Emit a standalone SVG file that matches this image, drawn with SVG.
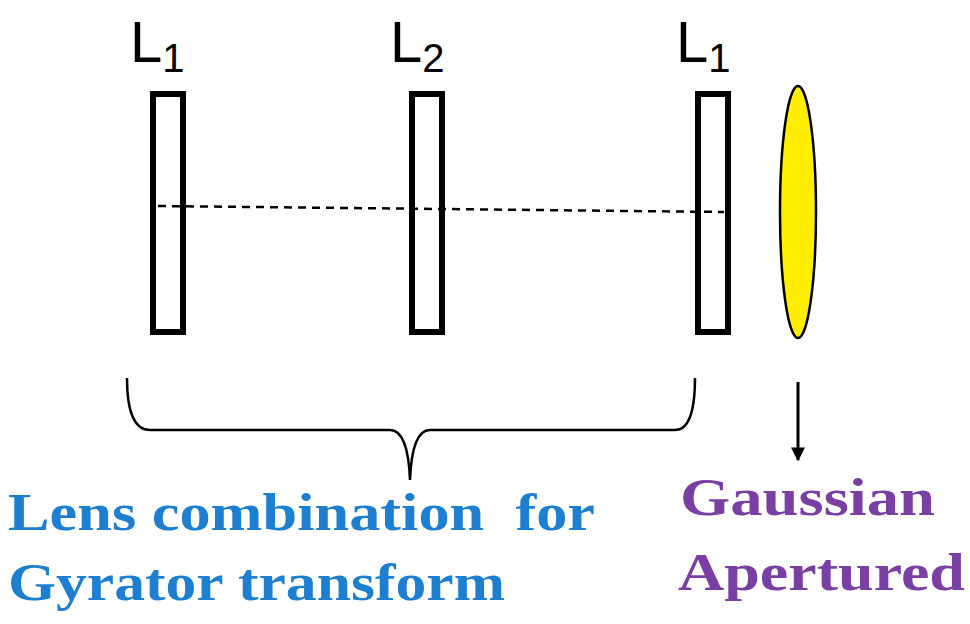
<svg xmlns="http://www.w3.org/2000/svg" width="970" height="624" viewBox="0 0 970 624">
<style>
.lens{fill:#fff;stroke:#000;stroke-width:6}
.lab{font-family:"Liberation Sans",Arial,sans-serif;font-size:58px;fill:#000}
.sub{font-size:40px}
.blue{font-family:"Liberation Serif","Times New Roman",serif;font-weight:bold;font-size:52px;fill:#1e7fd0}
.purp{font-family:"Liberation Serif","Times New Roman",serif;font-weight:bold;font-size:52px;fill:#7a3fa3}
</style>
<defs>
<marker id="a2" viewBox="0 0 10 10" markerWidth="14" markerHeight="16" refX="9" refY="5" orient="auto" markerUnits="userSpaceOnUse"><path d="M0,0 L10,5 L0,10Z" fill="#000"/></marker></defs>
<g id="L1a"><rect class="lens" x="153" y="94" width="30" height="238"/><text class="lab" x="130" y="62">L<tspan class="sub" dy="10">1</tspan></text></g>
<g id="L2"><rect class="lens" x="412" y="94" width="30" height="238"/><text class="lab" x="390" y="62">L<tspan class="sub" dy="10">2</tspan></text></g>
<g id="L1b"><rect class="lens" x="698" y="94" width="30" height="238"/><text class="lab" x="676" y="62">L<tspan class="sub" dy="10">1</tspan></text></g>
<g id="gauss"><ellipse cx="798" cy="212" rx="18" ry="126" fill="#ffee00" stroke="#000" stroke-width="2.5"/></g>
<g id="connectors">
<line x1="158" y1="206" x2="724" y2="212" stroke="#000" stroke-width="2.5" stroke-dasharray="8,6"/>
<path d="M127,378 Q127,430 150,430 L390,430 Q408,430 410,480 Q412,430 430,430 L675,430 Q695,430 695,378" fill="none" stroke="#000" stroke-width="2.5"/>
<line x1="798" y1="382" x2="798" y2="460" stroke="#000" stroke-width="3" marker-end="url(#a2)"/>
</g>
<g id="labels">
<text class="blue" x="8" y="530" textLength="587" lengthAdjust="spacingAndGlyphs" xml:space="preserve">Lens combination  for</text>
<text class="blue" x="8" y="600" textLength="497" lengthAdjust="spacingAndGlyphs">Gyrator transform</text>
<text class="purp" x="680" y="515" textLength="255" lengthAdjust="spacingAndGlyphs">Gaussian</text>
<text class="purp" x="678" y="590" textLength="287" lengthAdjust="spacingAndGlyphs">Apertured</text>
</g>
</svg>
